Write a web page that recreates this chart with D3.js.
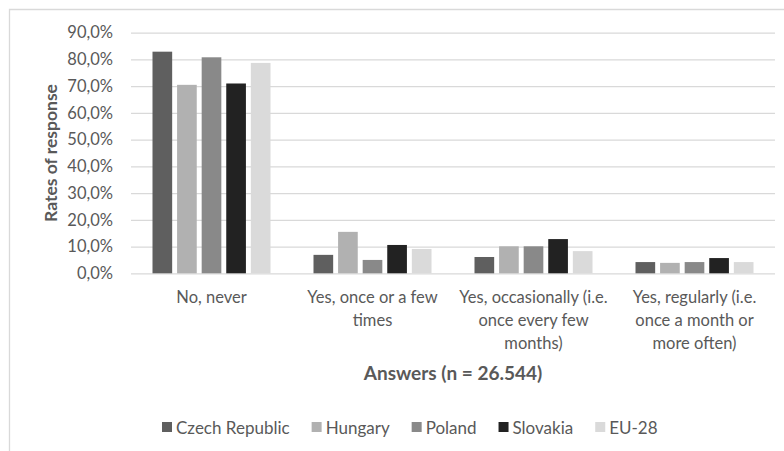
<!DOCTYPE html>
<html>
<head>
<meta charset="utf-8">
<script src="https://cdn.jsdelivr.net/npm/d3@7"></script>
<style>
  body { margin: 0; background: #fff; }
  svg { display: block; }
  text { font-family: Lato, "Open Sans", sans-serif; fill: #595959; }
</style>
</head>
<body>
<svg id="chart" width="784" height="451"></svg>
<script>
// Survey answers and share of respondents (%) per country
const categories = [
  "No, never",
  "Yes, once or a few\ntimes",
  "Yes, occasionally (i.e.\nonce every few\nmonths)",
  "Yes, regularly (i.e.\nonce a month or\nmore often)"
];
const seriesNames = ["Czech Republic", "Hungary", "Poland", "Slovakia", "EU-28"];
const czechRepublic = [82.9, 6.9, 6.1, 4.2];
const hungary       = [70.5, 15.5, 10.1, 3.9];
const poland        = [80.8, 5.0, 10.1, 4.2];
const slovakia      = [71.0, 10.6, 12.8, 5.7];
const eu28          = [78.7, 9.1, 8.3, 4.2];
const yTicks = [0, 10, 20, 30, 40, 50, 60, 70, 80, 90];
const seriesColors = ["#5f5f5f", "#b1b1b1", "#898989", "#222222", "#dadada"];
const yTitle = "Rates of response";
const xTitle = "Answers (n = 26.544)";

const seriesValues = [czechRepublic, hungary, poland, slovakia, eu28];

const svg = d3.select("#chart");
const plot = { left: 131, right: 775, top: 32.7, bottom: 273.3 };

// chart frame
svg.append("path")
  .attr("d", "M9.5,451 V9.5 H784")
  .attr("fill", "none")
  .attr("stroke", "#d9d9d9")
  .attr("stroke-width", 1.3);

const x0 = d3.scaleBand().domain(categories).range([plot.left, plot.right]);
const x1 = d3.scaleBand().domain(seriesNames).range([21.5, 139.5]).paddingInner(0.2);
const y = d3.scaleLinear().domain([0, 90]).range([plot.bottom, plot.top]);
const color = d3.scaleOrdinal().domain(seriesNames).range(seriesColors);

// y axis with gridlines
const yAxis = svg.append("g")
  .attr("transform", `translate(${plot.left},0)`)
  .call(d3.axisLeft(y)
    .tickValues(yTicks)
    .tickSize(-(plot.right - plot.left))
    .tickPadding(18)
    .tickFormat(d => d.toFixed(1).replace(".", ",") + "%"));
yAxis.select(".domain").remove();
yAxis.selectAll(".tick line").attr("stroke", "#d9d9d9").attr("stroke-width", 1.2);
yAxis.selectAll(".tick text")
  .attr("font-size", 16.5)
  .style("font-family", "Lato, 'Open Sans', sans-serif")
  .attr("fill", "#595959");

// bars
const rows = categories.map((c, i) => ({
  category: c,
  values: seriesNames.map((s, j) => ({ series: s, value: seriesValues[j][i] }))
}));

svg.append("g").selectAll("g")
  .data(rows)
  .join("g")
  .attr("transform", d => `translate(${x0(d.category)},0)`)
  .selectAll("rect")
  .data(d => d.values)
  .join("rect")
  .attr("x", d => x1(d.series))
  .attr("width", x1.bandwidth())
  .attr("y", d => y(d.value))
  .attr("height", d => y(0) - y(d.value))
  .attr("fill", d => color(d.series));

// x axis category labels, one tspan per line
const xAxis = svg.append("g")
  .attr("transform", `translate(0,${plot.bottom})`)
  .call(d3.axisBottom(x0).tickSize(0).tickPadding(0));
xAxis.select(".domain").remove();

const lineHeight = 23;
xAxis.selectAll(".tick text")
  .attr("font-size", 16.5)
  .style("font-family", "Lato, 'Open Sans', sans-serif")
  .attr("fill", "#595959")
  .attr("dy", null)
  .attr("y", 0)
  .attr("transform", "translate(0,30)")
  .each(function (d) {
    const text = d3.select(this);
    text.text(null);
    d.split("\n").forEach((line, i) => {
      text.append("tspan").attr("x", 0).attr("y", i * lineHeight).text(line);
    });
  });

// axis titles
svg.append("text")
  .attr("transform", "translate(50,153) rotate(-90)")
  .attr("text-anchor", "middle")
  .attr("dominant-baseline", "central")
  .attr("font-size", 17.5)
  .attr("font-weight", "bold")
  .text(yTitle);

svg.append("text")
  .attr("x", (plot.left + plot.right) / 2)
  .attr("y", 372)
  .attr("text-anchor", "middle")
  .attr("dominant-baseline", "central")
  .attr("font-size", 19)
  .attr("font-weight", "bold")
  .text(xTitle);

// legend
const legend = svg.append("g").attr("transform", "translate(162,427)");
let lx = 0;
seriesNames.forEach((name) => {
  const item = legend.append("g").attr("transform", `translate(${lx},0)`);
  item.append("rect")
    .attr("x", 0).attr("y", -5)
    .attr("width", 10).attr("height", 10)
    .attr("fill", color(name));
  const t = item.append("text")
    .attr("x", 14)
    .attr("dominant-baseline", "central")
    .attr("font-size", 17)
    .text(name);
  lx += 14 + t.node().getComputedTextLength() + 22;
});
</script>
</body>
</html>
